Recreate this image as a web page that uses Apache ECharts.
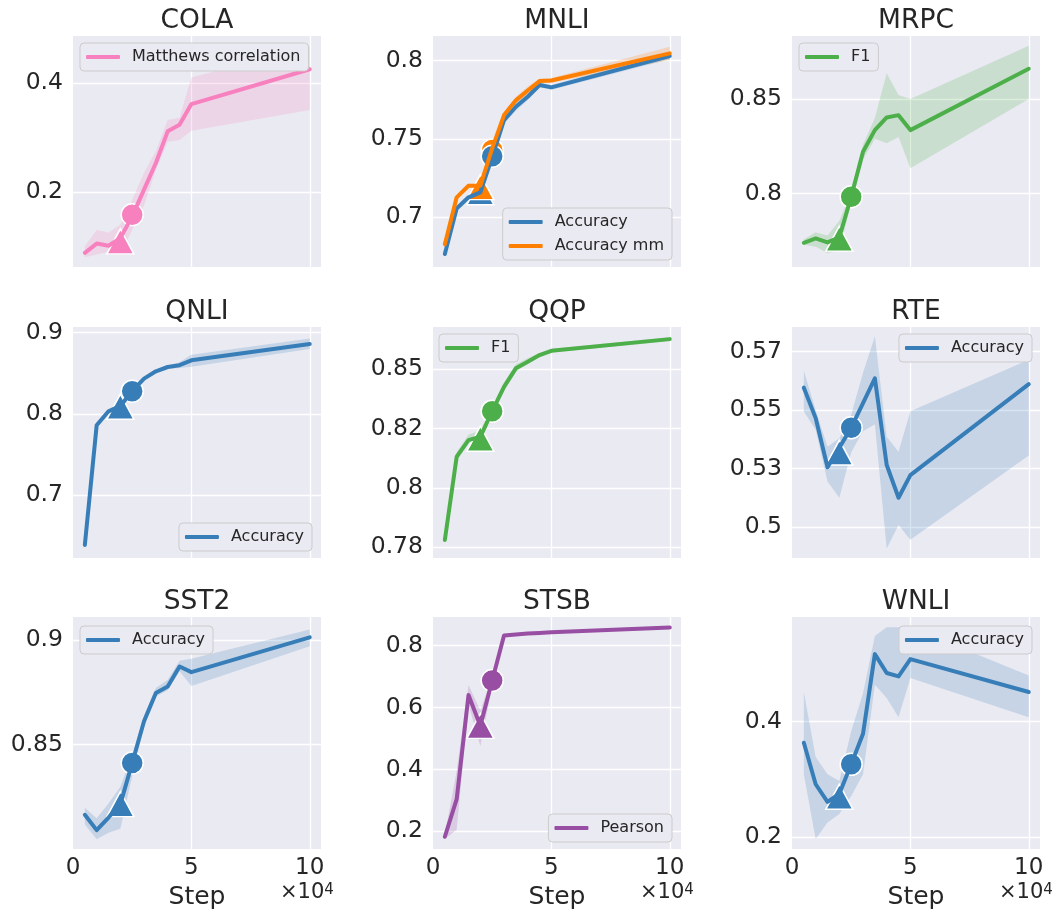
<!DOCTYPE html>
<html>
<head>
<meta charset="utf-8">
<title>GLUE learning curves</title>
<script src="https://cdn.jsdelivr.net/npm/echarts@6/dist/echarts.min.js"></script>
<style>
  html, body { margin: 0; padding: 0; background: #ffffff; }
  #chart { width: 1053px; height: 911px; }
</style>
</head>
<body>
<div id="chart"></div>
<script>
// training steps (shared x values)
const steps = [5000, 10000, 15000, 20000, 25000, 30000, 35000, 40000, 45000, 50000, 100000]
const triangleStep = 20000
const circleStep = 25000
const xTicks = [0, 50000, 100000]

// COLA
const colaMean = [0.088, 0.105, 0.101, 0.115, 0.155, 0.204, 0.253, 0.311, 0.323, 0.361, 0.425]
const colaLo = [0.080, 0.085, 0.090, 0.085, 0.130, 0.175, 0.240, 0.292, 0.295, 0.312, 0.350]
const colaHi = [0.100, 0.130, 0.125, 0.140, 0.185, 0.235, 0.275, 0.332, 0.336, 0.410, 0.467]
const colaTicks = [0.2, 0.4]
const colaTickLabels = ['0.2', '0.4']

// MNLI
const mnliAcc = [0.6766, 0.7057, 0.7128, 0.7160, 0.7387, 0.7620, 0.7706, 0.7770, 0.7845, 0.7830, 0.8030]
const mnliAccLo = [0.6755, 0.7047, 0.7118, 0.7150, 0.7375, 0.7600, 0.7680, 0.7750, 0.7830, 0.7815, 0.8010]
const mnliAccHi = [0.6777, 0.7067, 0.7138, 0.7170, 0.7399, 0.7640, 0.7730, 0.7790, 0.7860, 0.7845, 0.8050]
const mnliMm = [0.6828, 0.7128, 0.7202, 0.7202, 0.7440, 0.7653, 0.7747, 0.7810, 0.7870, 0.7874, 0.8047]
const mnliMmLo = [0.6815, 0.7115, 0.7190, 0.7190, 0.7425, 0.7640, 0.7725, 0.7785, 0.7855, 0.7860, 0.8005]
const mnliMmHi = [0.6841, 0.7141, 0.7214, 0.7214, 0.7455, 0.7666, 0.7770, 0.7835, 0.7885, 0.7890, 0.8090]
const mnliTicks = [0.7, 0.75, 0.8]
const mnliTickLabels = ['0.7', '0.75', '0.8']

// MRPC
const mrpcMean = [0.7741, 0.7764, 0.7743, 0.7770, 0.7984, 0.8222, 0.8336, 0.8403, 0.8415, 0.8336, 0.8660]
const mrpcLo = [0.7730, 0.7720, 0.7687, 0.7700, 0.7950, 0.8180, 0.8290, 0.8266, 0.8300, 0.8134, 0.8500]
const mrpcHi = [0.7760, 0.7796, 0.7780, 0.7857, 0.8010, 0.8260, 0.8400, 0.8636, 0.8521, 0.8500, 0.8781]
const mrpcTicks = [0.8, 0.85]
const mrpcTickLabels = ['0.8', '0.85']

// QNLI
const qnliMean = [0.6389, 0.7861, 0.8033, 0.8100, 0.8280, 0.8435, 0.8525, 0.8578, 0.8600, 0.8660, 0.8861]
const qnliLo = [0.6370, 0.7840, 0.8015, 0.8080, 0.8260, 0.8415, 0.8505, 0.8555, 0.8565, 0.8580, 0.8800]
const qnliHi = [0.6405, 0.7900, 0.8050, 0.8120, 0.8300, 0.8455, 0.8545, 0.8600, 0.8635, 0.8730, 0.8930]
const qnliTicks = [0.7, 0.8, 0.9]
const qnliTickLabels = ['0.7', '0.8', '0.9']

// QQP
const qqpMean = [0.7781, 0.8131, 0.8201, 0.8215, 0.8323, 0.8425, 0.8503, 0.8531, 0.8559, 0.8577, 0.8626]
const qqpLo = [0.7770, 0.8115, 0.8190, 0.8200, 0.8310, 0.8410, 0.8490, 0.8520, 0.8550, 0.8570, 0.8618]
const qqpHi = [0.7795, 0.8150, 0.8225, 0.8240, 0.8340, 0.8445, 0.8520, 0.8545, 0.8568, 0.8585, 0.8634]
const qqpTicks = [0.775, 0.8, 0.825, 0.85]
const qqpTickLabels = ['0.78', '0.8', '0.82', '0.85']

// RTE
const rteMean = [0.5596, 0.5466, 0.5256, 0.5340, 0.5425, 0.5530, 0.5636, 0.5266, 0.5126, 0.5223, 0.5611]
const rteLo = [0.5494, 0.5416, 0.5195, 0.5126, 0.5320, 0.5410, 0.5440, 0.4910, 0.5010, 0.4947, 0.5306]
const rteHi = [0.5668, 0.5500, 0.5344, 0.5380, 0.5480, 0.5660, 0.5814, 0.5387, 0.5323, 0.5495, 0.5715]
const rteTicks = [0.5, 0.525, 0.55, 0.575]
const rteTickLabels = ['0.5', '0.53', '0.55', '0.57']

// SST2
const sst2Mean = [0.8166, 0.8093, 0.8153, 0.8217, 0.8413, 0.8612, 0.8747, 0.8778, 0.8873, 0.8846, 0.9012]
const sst2Lo = [0.8120, 0.8050, 0.8080, 0.8100, 0.8350, 0.8590, 0.8730, 0.8760, 0.8850, 0.8780, 0.8970]
const sst2Hi = [0.8200, 0.8150, 0.8220, 0.8300, 0.8450, 0.8640, 0.8770, 0.8810, 0.8900, 0.8910, 0.9050]
const sst2Ticks = [0.85, 0.9]
const sst2TickLabels = ['0.85', '0.9']

// STSB
const stsbMean = [0.1827, 0.3039, 0.6405, 0.5408, 0.6872, 0.8322, 0.8360, 0.8390, 0.8410, 0.8430, 0.8580]
const stsbLo = [0.1750, 0.2050, 0.6090, 0.4750, 0.6700, 0.8290, 0.8330, 0.8360, 0.8380, 0.8400, 0.8550]
const stsbHi = [0.1900, 0.3950, 0.6730, 0.5900, 0.7000, 0.8350, 0.8390, 0.8420, 0.8440, 0.8460, 0.8610]
const stsbTicks = [0.2, 0.4, 0.6, 0.8]
const stsbTickLabels = ['0.2', '0.4', '0.6', '0.8']

// WNLI
const wnliMean = [0.3633, 0.2914, 0.2609, 0.2750, 0.3259, 0.3788, 0.5167, 0.4840, 0.4781, 0.5081, 0.4512]
const wnliLo = [0.3086, 0.1966, 0.2253, 0.2397, 0.2712, 0.3086, 0.4638, 0.4408, 0.4074, 0.4753, 0.4074]
const wnliHi = [0.4510, 0.3385, 0.3086, 0.2970, 0.3830, 0.4490, 0.5483, 0.5633, 0.5633, 0.5633, 0.4798]
const wnliTicks = [0.2, 0.4]
const wnliTickLabels = ['0.2', '0.4']

// marked checkpoints (triangle @ 2e4, circle @ 2.5e4)
const triangleValues = {
  cola: 0.109, mnliAcc: 0.716, mnliMm: 0.7193, mrpc: 0.7763, qnli: 0.809,
  qqp: 0.8207, rte: 0.5319, sst2: 0.8217, stsb: 0.5408, wnli: 0.2698
}
const circleValues = {
  cola: 0.158, mnliAcc: 0.739, mnliMm: 0.743, mrpc: 0.7984, qnli: 0.828,
  qqp: 0.8323, rte: 0.5425, sst2: 0.8413, stsb: 0.6872, wnli: 0.3259
}

const PINK = '#f781bf'
const BLUE = '#377eb8'
const ORANGE = '#ff7f00'
const GREEN = '#4daf4a'
const PURPLE = '#984ea3'
const TEXT = '#262626'
const FONT = 'DejaVu Sans'

const colLeft = [73, 433, 792]
const rowTop = [36, 327, 617]
const rowHeight = [231, 231, 233]
const plotWidth = 248

// panel table built from the arrays above
const panels = [
  { title: 'COLA', row: 0, col: 0, yMin: 0.062, yMax: 0.486, ticks: colaTicks, labels: colaTickLabels,
    legend: { left: 80, top: 43 },
    lines: [{ name: 'Matthews correlation', color: PINK, mean: colaMean, lo: colaLo, hi: colaHi, tri: triangleValues.cola, circ: circleValues.cola }] },
  { title: 'MNLI', row: 0, col: 1, yMin: 0.6683, yMax: 0.8158, ticks: mnliTicks, labels: mnliTickLabels,
    legend: { right: 381, top: 208 },
    lines: [
      { name: 'Accuracy', color: BLUE, mean: mnliAcc, lo: mnliAccLo, hi: mnliAccHi, tri: triangleValues.mnliAcc, circ: circleValues.mnliAcc },
      { name: 'Accuracy mm', color: ORANGE, mean: mnliMm, lo: mnliMmLo, hi: mnliMmHi, tri: triangleValues.mnliMm, circ: circleValues.mnliMm }
    ] },
  { title: 'MRPC', row: 0, col: 2, yMin: 0.7613, yMax: 0.8833, ticks: mrpcTicks, labels: mrpcTickLabels,
    legend: { left: 799, top: 43 },
    lines: [{ name: 'F1', color: GREEN, mean: mrpcMean, lo: mrpcLo, hi: mrpcHi, tri: triangleValues.mrpc, circ: circleValues.mrpc }] },
  { title: 'QNLI', row: 1, col: 0, yMin: 0.6229, yMax: 0.907, ticks: qnliTicks, labels: qnliTickLabels,
    legend: { right: 741, top: 523 },
    lines: [{ name: 'Accuracy', color: BLUE, mean: qnliMean, lo: qnliLo, hi: qnliHi, tri: triangleValues.qnli, circ: circleValues.qnli }] },
  { title: 'QQP', row: 1, col: 1, yMin: 0.7705, yMax: 0.8677, ticks: qqpTicks, labels: qqpTickLabels,
    legend: { left: 439, top: 334 },
    lines: [{ name: 'F1', color: GREEN, mean: qqpMean, lo: qqpLo, hi: qqpHi, tri: triangleValues.qqp, circ: circleValues.qqp }] },
  { title: 'RTE', row: 1, col: 2, yMin: 0.4869, yMax: 0.5855, ticks: rteTicks, labels: rteTickLabels,
    legend: { right: 21, top: 334 },
    lines: [{ name: 'Accuracy', color: BLUE, mean: rteMean, lo: rteLo, hi: rteHi, tri: triangleValues.rte, circ: circleValues.rte }] },
  { title: 'SST2', row: 2, col: 0, yMin: 0.8003, yMax: 0.9109, ticks: sst2Ticks, labels: sst2TickLabels,
    legend: { left: 80, top: 626 },
    lines: [{ name: 'Accuracy', color: BLUE, mean: sst2Mean, lo: sst2Lo, hi: sst2Hi, tri: triangleValues.sst2, circ: circleValues.sst2 }] },
  { title: 'STSB', row: 2, col: 1, yMin: 0.1431, yMax: 0.8923, ticks: stsbTicks, labels: stsbTickLabels,
    legend: { right: 381, top: 814 },
    lines: [{ name: 'Pearson', color: PURPLE, mean: stsbMean, lo: stsbLo, hi: stsbHi, tri: triangleValues.stsb, circ: circleValues.stsb }] },
  { title: 'WNLI', row: 2, col: 2, yMin: 0.1793, yMax: 0.581, ticks: wnliTicks, labels: wnliTickLabels,
    legend: { right: 21, top: 626 },
    lines: [{ name: 'Accuracy', color: BLUE, mean: wnliMean, lo: wnliLo, hi: wnliHi, tri: triangleValues.wnli, circ: circleValues.wnli }] }
]

function hexToRgba(hex, a) {
  const n = parseInt(hex.slice(1), 16)
  return `rgba(${(n >> 16) & 255}, ${(n >> 8) & 255}, ${n & 255}, ${a})`
}

const grids = []
const xAxes = []
const yAxes = []
const legends = []
const series = []
const graphics = []

panels.forEach((p, i) => {
  const left = colLeft[p.col]
  const top = rowTop[p.row]
  const bottomRow = p.row === 2

  grids.push({
    left: left, top: top, width: plotWidth, height: rowHeight[p.row],
    show: true, backgroundColor: '#eaeaf2', borderWidth: 0
  })

  xAxes.push({
    gridIndex: i,
    type: 'value',
    min: 0,
    max: 104750,
    axisLine: { show: false },
    axisTick: { show: false, customValues: [50000, 100000] },
    splitLine: { show: true, lineStyle: { color: '#ffffff', width: 1.3 } },
    axisLabel: {
      show: bottomRow,
      customValues: xTicks,
      formatter: v => String(Math.round(v / 10000)),
      fontSize: 23, color: TEXT, fontFamily: FONT, margin: 8
    },
    name: bottomRow ? 'Step' : '',
    nameLocation: 'middle',
    nameGap: 36,
    nameTextStyle: { fontSize: 25, color: TEXT, fontFamily: FONT }
  })

  yAxes.push({
    gridIndex: i,
    type: 'value',
    min: p.yMin,
    max: p.yMax,
    axisLine: { show: false },
    axisTick: { show: false, customValues: p.ticks },
    splitLine: { show: true, lineStyle: { color: '#ffffff', width: 1.3 } },
    axisLabel: {
      customValues: p.ticks,
      formatter: v => {
        const k = p.ticks.findIndex(t => Math.abs(t - v) < 1e-9)
        return k >= 0 ? p.labels[k] : ''
      },
      fontSize: 23.5, color: TEXT, fontFamily: FONT, margin: 10
    }
  })

  legends.push(Object.assign({
    data: p.lines.map(l => l.name),
    orient: 'vertical',
    icon: 'roundRect',
    itemWidth: 34,
    itemHeight: 4,
    itemGap: 8,
    selectedMode: false,
    backgroundColor: '#eaeaf2',
    borderColor: '#cccccc',
    borderWidth: 1,
    borderRadius: 4,
    padding: [6, 8, 6, 6],
    textStyle: { fontSize: 16, color: TEXT, fontFamily: FONT, padding: [0, 0, 0, 7] }
  }, p.legend))

  // confidence bands, one polygon per line through the axis scales
  p.lines.forEach(l => {
    series.push({
      type: 'custom', xAxisIndex: i, yAxisIndex: i, z: 1, silent: true,
      data: steps.map((x, k) => [x, l.lo[k], l.hi[k]]),
      encode: { x: 0, y: [1, 2] },
      renderItem: (params, api) => {
        if (params.dataIndex !== 0) return
        const upper = steps.map((x, k) => api.coord([x, l.hi[k]]))
        const lower = steps.map((x, k) => api.coord([x, l.lo[k]])).reverse()
        return {
          type: 'polygon',
          shape: { points: upper.concat(lower) },
          style: { fill: hexToRgba(l.color, 0.2) }
        }
      }
    })
  })

  // markers: triangles first, then circles (later line's circle underneath)
  p.lines.forEach((l, j) => {
    series.push({
      type: 'scatter', name: 'tri_' + i + '_' + j, xAxisIndex: i, yAxisIndex: i,
      symbol: 'triangle', symbolSize: [27, 25], z: 2, silent: true,
      itemStyle: { color: l.color, opacity: 1, borderColor: '#ffffff', borderWidth: 1.5 },
      data: [[triangleStep, l.tri]]
    })
  })
  p.lines.slice().reverse().forEach((l, j) => {
    series.push({
      type: 'scatter', name: 'circ_' + i + '_' + j, xAxisIndex: i, yAxisIndex: i,
      symbol: 'circle', symbolSize: 22, z: 2, silent: true,
      itemStyle: { color: l.color, opacity: 1, borderColor: '#ffffff', borderWidth: 1.5 },
      data: [[circleStep, l.circ]]
    })
  })

  // mean lines on top
  p.lines.forEach(l => {
    series.push({
      type: 'line', name: l.name, xAxisIndex: i, yAxisIndex: i,
      symbol: 'none', z: 3, silent: true,
      itemStyle: { color: l.color },
      lineStyle: { color: l.color, width: 4, cap: 'round', join: 'round' },
      data: steps.map((x, k) => [x, l.mean[k]])
    })
  })

  // subplot title
  graphics.push({
    type: 'text',
    x: left + plotWidth / 2,
    y: top - 15,
    style: {
      text: p.title, fill: TEXT, fontSize: 26.5, fontFamily: FONT,
      align: 'center', verticalAlign: 'middle'
    }
  })

  // x offset text on the bottom row
  if (bottomRow) {
    graphics.push({
      type: 'text',
      x: left + plotWidth - 41,
      y: 893,
      style: {
        text: '×10{s|4}', fill: TEXT, fontSize: 21, fontFamily: FONT,
        align: 'left', verticalAlign: 'middle',
        rich: { s: { fontSize: 15, fontFamily: FONT, fill: TEXT, verticalAlign: 'top', lineHeight: 15 } }
      }
    })
  }
})

const chart = echarts.init(document.getElementById('chart'), null, { renderer: 'canvas' })
chart.setOption({
  animation: false,
  backgroundColor: '#ffffff',
  textStyle: { fontFamily: FONT },
  grid: grids,
  xAxis: xAxes,
  yAxis: yAxes,
  legend: legends,
  series: series,
  graphic: graphics
})
</script>
</body>
</html>
